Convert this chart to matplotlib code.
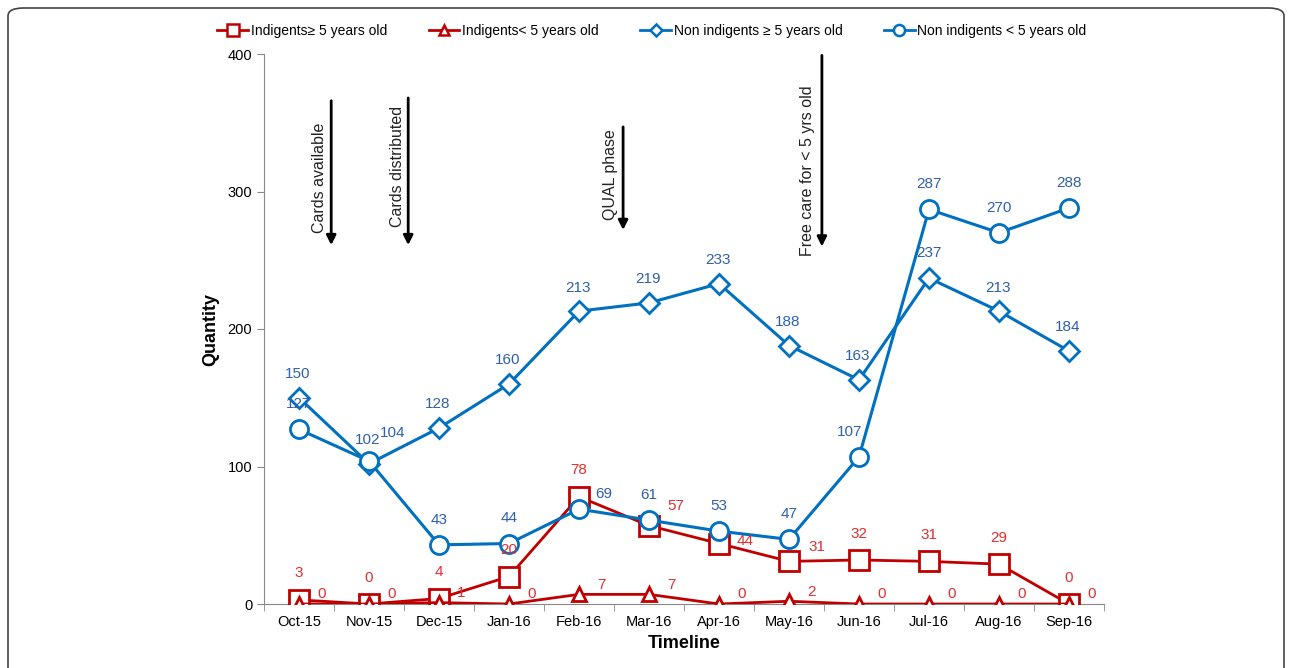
import matplotlib
matplotlib.use("Agg")
import matplotlib.pyplot as plt
from matplotlib.patches import FancyBboxPatch
from matplotlib.lines import Line2D

months = ["Oct-15", "Nov-15", "Dec-15", "Jan-16", "Feb-16", "Mar-16",
          "Apr-16", "May-16", "Jun-16", "Jul-16", "Aug-16", "Sep-16"]
ind_ge5 = [3, 0, 4, 20, 78, 57, 44, 31, 32, 31, 29, 0]
ind_lt5 = [0, 0, 1, 0, 7, 7, 0, 2, 0, 0, 0, 0]
non_ge5 = [150, 102, 128, 160, 213, 219, 233, 188, 163, 237, 213, 184]
non_lt5 = [127, 104, 43, 44, 69, 61, 53, 47, 107, 287, 270, 288]
yticks = [0, 100, 200, 300, 400]

events = ["Cards available", "Cards distributed", "QUAL phase", "Free care for < 5 yrs old"]
event_x = [0.46, 1.56, 4.63, 7.47]
event_top = [366, 368, 347, 399]
event_bot = [261, 261, 272, 260]
event_textx = [0.30, 1.40, 4.45, 7.27]
event_texty = [310, 318, 312, 315]

plt.rcParams['font.family'] = ['Liberation Sans', 'DejaVu Sans']

RED = '#C00000'
RED_T = '#E03030'
BLUE = '#0070C0'
BLUE_T = '#3060A8'

fig = plt.figure(figsize=(12.92, 6.68), dpi=100)
ax = fig.add_axes([264/1292, 1-604/668, (1104-264)/1292, (604-54)/668])

x = list(range(len(months)))
ax.plot(x, ind_ge5, color=RED, lw=2, marker='s', ms=14, mfc='white', mew=2, zorder=3)
ax.plot(x, ind_lt5, color=RED, lw=2, marker='^', ms=10, mfc='white', mew=2, zorder=3)
ax.plot(x, non_ge5, color=BLUE, lw=2.2, marker='D', ms=10, mfc='white', mew=2, zorder=3)
ax.plot(x, non_lt5, color=BLUE, lw=2.2, marker='o', ms=13, mfc='white', mew=2, zorder=3)

fs = 11
def lab(xi, yi, dx, dy, color):
    ax.annotate(str(yi), (xi, yi), xytext=(dx, dy), textcoords='offset points',
                ha='center', va='center', color=color, fontsize=fs, zorder=5)

for i, v in enumerate(ind_ge5):
    if i in (5, 6, 7):
        off = {5: (19, 14), 6: (19, 2), 7: (20, 10)}[i]
    else:
        off = (0, 19)
    lab(i, v, off[0], off[1], RED_T)
for i, v in enumerate(ind_lt5):
    lab(i, v, 16, 7, RED_T)
for i, v in enumerate(non_ge5):
    off = (-1, 17) if i != 9 else (0, 18)
    lab(i, v, off[0], off[1], BLUE_T)
for i, v in enumerate(non_lt5):
    if i == 1:
        off = (17, 20)
    elif i == 4:
        off = (18, 11)
    elif i == 8:
        off = (-7, 18)
    else:
        off = (0, 18)
    lab(i, v, off[0], off[1], BLUE_T)

for ex, et, eb, tx, ty, txt in zip(event_x, event_top, event_bot, event_textx, event_texty, events):
    ax.annotate('', xy=(ex, eb), xytext=(ex, et),
                arrowprops=dict(arrowstyle='-|>', color='black', lw=2, mutation_scale=14,
                                shrinkA=0, shrinkB=0), annotation_clip=False)
    ax.text(tx, ty, txt, rotation=90, ha='center', va='center', fontsize=11.5, color='#222222')

ax.set_xlim(-0.5, 11.5)
ax.set_ylim(0, 400)
ax.set_yticks(yticks)
ax.set_yticklabels([str(t) for t in yticks], fontsize=10.5)
ax.set_xticks(x)
ax.set_xticklabels(months, fontsize=10.5)
ax.set_xticks([i - 0.5 for i in range(len(months) + 1)], minor=True)
ax.tick_params(axis='x', which='major', length=0, pad=8)
ax.tick_params(axis='x', which='minor', length=5, color='#888888')
ax.tick_params(axis='y', length=5, color='#888888')
for s in ['top', 'right']:
    ax.spines[s].set_visible(False)
for s in ['left', 'bottom']:
    ax.spines[s].set_color('#888888')
ax.set_ylabel('Quantity', fontsize=13, fontweight='bold', labelpad=6)
ax.set_xlabel('Timeline', fontsize=13, fontweight='bold', labelpad=4)

handles = [
    Line2D([], [], color=RED, lw=2, marker='s', ms=8, mfc='white', mew=1.8),
    Line2D([], [], color=RED, lw=2, marker='^', ms=7, mfc='white', mew=1.8),
    Line2D([], [], color=BLUE, lw=2, marker='D', ms=6, mfc='white', mew=1.8),
    Line2D([], [], color=BLUE, lw=2, marker='o', ms=8, mfc='white', mew=1.8),
]
labels = ["Indigents\u2265 5 years old", "Indigents< 5 years old",
          "Non indigents \u2265 5 years old", "Non indigents < 5 years old"]
fig.legend(handles, labels, loc='center', bbox_to_anchor=(652/1292, 1-31/668), ncol=4,
           frameon=False, fontsize=10, handlelength=2.2, handletextpad=0.2, columnspacing=3.0)

border = FancyBboxPatch((8/1292, -0.05), (1284-8)/1292, 1.05 - 8/668 + 0.0,
                        boxstyle='round,pad=0,rounding_size=0.012', transform=fig.transFigure,
                        facecolor='none', edgecolor='#444444', lw=1.2)
fig.patches.append(border)

fig.savefig('out.png', dpi=100)
